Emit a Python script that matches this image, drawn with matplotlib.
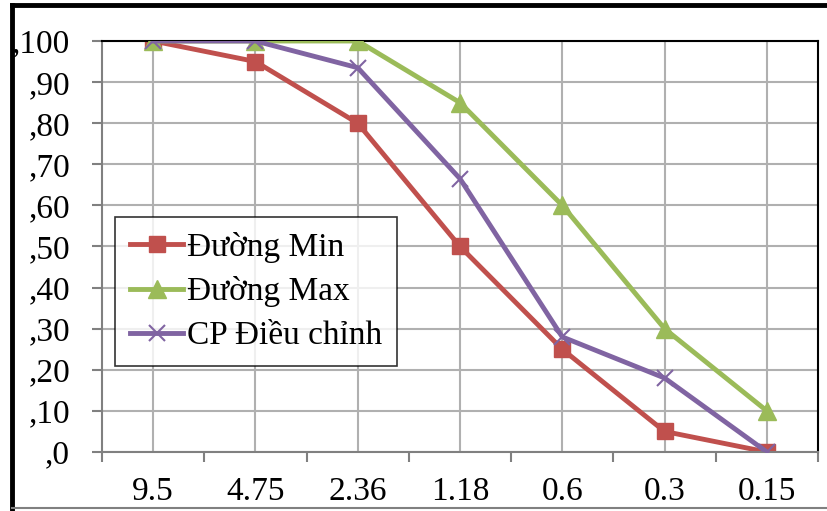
import numpy as np
import matplotlib.pyplot as plt
from matplotlib.lines import Line2D

# data
categories = ['9.5', '4.75', '2.36', '1.18', '0.6', '0.3', '0.15']
duong_min = [100, 95, 80, 50, 25, 5, 0]
duong_max = [100, 100, 100, 85, 60, 30, 10]
cp_dieu_chinh = [100, 100, 93.5, 66.5, 28, 18, 0]
y_ticks = [0, 10, 20, 30, 40, 50, 60, 70, 80, 90, 100]
y_labels = [',0', ',10', ',20', ',30', ',40', ',50', ',60', ',70', ',80', ',90', ',100']

plt.rcParams['font.family'] = ['Liberation Serif', 'DejaVu Serif']

fig = plt.figure(figsize=(8.27, 5.11), dpi=100)
ax = fig.add_axes([102 / 827, 1 - 452 / 511, 716 / 827, 411 / 511])

x = np.arange(len(categories))
ax.plot(x, duong_min, color='#C0504D', lw=3.5, marker='s', ms=12, label='Đường Min', zorder=2)
ax.plot(x, duong_max, color='#9BBB59', lw=3.5, marker='^', ms=13, label='Đường Max', zorder=3)
ax.plot(x, cp_dieu_chinh, color='#8064A2', lw=3.5, marker='x', ms=12, mew=1.5, label='CP Điều chỉnh', zorder=4)

ax.set_xlim(-0.5, len(categories) - 0.5)
ax.set_ylim(0, 100)
ax.set_yticks(y_ticks)
ax.set_yticklabels(y_labels)
ax.set_xticks(x)
ax.set_xticklabels(categories)
ax.set_xticks(np.arange(-0.5, len(categories)), minor=True)

ax.grid(True, which='major', color='#b0b0b0', lw=1.5)
ax.set_axisbelow(True)
ax.tick_params(axis='y', length=7, width=1.5, color='#808080', pad=16, labelsize=24)
ax.tick_params(axis='x', which='major', length=0, pad=18, labelsize=24)
ax.tick_params(axis='x', which='minor', length=7, width=1.5, color='#808080')

for side in ['left', 'bottom']:
    ax.spines[side].set_color('#808080')
    ax.spines[side].set_linewidth(1.5)
for side in ['top', 'right']:
    ax.spines[side].set_color('black')
    ax.spines[side].set_linewidth(1.5)

leg = ax.legend(loc='upper left', bbox_to_anchor=(13 / 716, (452 - 217) / 411),
                fontsize=24, frameon=True, fancybox=False, edgecolor='black',
                handlelength=1.6, borderpad=0.45, labelspacing=0.4, handletextpad=0.12,
                borderaxespad=0)
leg.get_frame().set_linewidth(1.2)

# outer frame of the picture
fig.add_artist(Line2D([12 / 827, 12 / 827], [0, 1 - 5 / 511], color='black', lw=3.5))
fig.add_artist(Line2D([12 / 827, 1], [1 - 5 / 511, 1 - 5 / 511], color='black', lw=3.5))
fig.add_artist(Line2D([12 / 827, 1], [3 / 511, 3 / 511], color='#808080', lw=1.5))

fig.savefig('out.png', dpi=100)
